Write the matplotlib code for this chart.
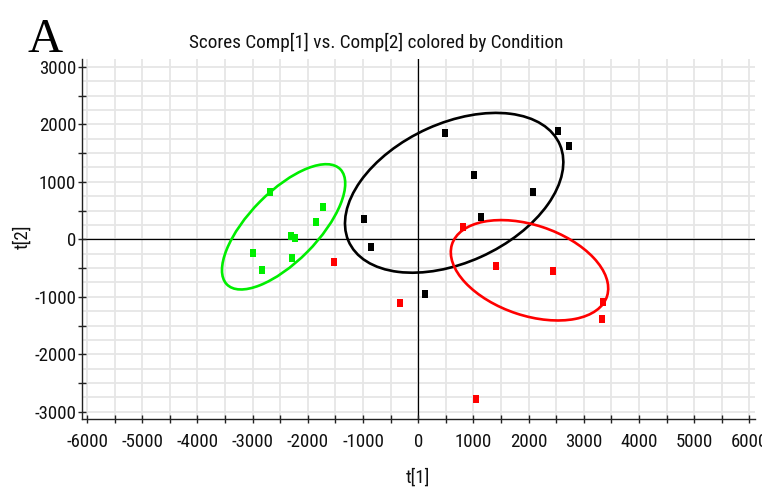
import matplotlib
matplotlib.use("Agg")
import matplotlib.pyplot as plt
from matplotlib import font_manager
from matplotlib.patches import Ellipse
from matplotlib.ticker import MultipleLocator
import numpy as np

# ---- data ----
green_x = [-2690, -1726, -1853, -2312, -2234, -3000, -2288, -2832]
green_y = [826, 560, 304, 61, 26, -240, -322, -530]

black_x = [484, 2525, 2724, 1003, 2072, 1136, -989, -862, 121]
black_y = [1852, 1887, 1626, 1117, 826, 381, 351, -130, -948]

red_x = [810, 1402, 2435, 3340, 3328, -332, -1533, 1040]
red_y = [217, -461, -548, -1087, -1383, -1104, -391, -2774]

# confidence ellipses: (center_x, center_y, width, height, angle_deg)
green_ell = (-2440, 217, 2870, 1225, 44)
black_ell = (650, 809, 4180, 2430, 23.4)
red_ell = (2015, -539, 2950, 1575, -17.6)

x_ticks = list(range(-6000, 6001, 1000))
y_ticks = list(range(-3000, 3001, 1000))

title = "Scores Comp[1] vs. Comp[2] colored by Condition"
panel_label = "A"
xlabel = "t[1]"
ylabel = "t[2]"

GREEN = "#00ee00"
RED = "#ff0000"
BLACK = "#000000"

# ---- pick a narrow font if one is installed ----
fonts = font_manager.fontManager.ttflist
avail = {f.name for f in fonts}
narrow_family = None
narrow_stretch = "normal"
for cand in ["Liberation Sans Narrow", "Arial Narrow", "Roboto Condensed",
             "Noto Sans Condensed", "Open Sans Condensed"]:
    if cand in avail:
        narrow_family = cand
        break
if narrow_family is None:
    cond = [f for f in fonts if f.name in ("DejaVu Sans", "Noto Sans", "Open Sans")
            and str(f.stretch) in ("condensed", "semi-condensed", "extra-condensed")]
    if cond:
        narrow_family = cond[0].name
        narrow_stretch = str(cond[0].stretch)
if narrow_family is None:
    narrow_family = "Roboto" if "Roboto" in avail else "Liberation Sans"
narrow = [narrow_family, "DejaVu Sans"]

fig = plt.figure(figsize=(7.62, 4.93), dpi=100)
ax = fig.add_axes([0.1072, 0.150, 0.8836, 0.730])

ax.set_xlim(-6098, 6100)
ax.set_ylim(-3127, 3134)

for gx in np.arange(-6000, 6001, 500):
    ax.axvline(gx, color="#e6e6e6", lw=1.3, zorder=0)
for gy in np.arange(-3000, 3001, 250):
    ax.axhline(gy, color="#e6e6e6", lw=1.3, zorder=0)

ax.axhline(0, color="black", lw=0.9, zorder=1)
ax.axvline(0, color="black", lw=0.9, zorder=1)

for (cx, cy, w, h, ang), col in [(green_ell, GREEN), (black_ell, BLACK), (red_ell, RED)]:
    ax.add_patch(Ellipse((cx, cy), w, h, angle=ang, fill=False, edgecolor=col, lw=1.9, zorder=3))

rect = [(-3, -4), (3, -4), (3, 4), (-3, 4), (-3, -4)]
ax.scatter(green_x, green_y, marker=rect, s=38, color=GREEN, zorder=4, linewidths=0)
ax.scatter(black_x, black_y, marker=rect, s=38, color=BLACK, zorder=4, linewidths=0)
ax.scatter(red_x, red_y, marker=rect, s=38, color=RED, zorder=4, linewidths=0)

for s in ["top", "right"]:
    ax.spines[s].set_visible(False)
for s in ["left", "bottom"]:
    ax.spines[s].set_linewidth(1.0)
    ax.spines[s].set_color("#222222")

ax.set_xticks(x_ticks)
ax.set_yticks(y_ticks)
ax.xaxis.set_minor_locator(MultipleLocator(500))
ax.yaxis.set_minor_locator(MultipleLocator(500))
ax.set_xticklabels([str(v) for v in x_ticks])
ax.set_yticklabels([str(v) for v in y_ticks])
ax.tick_params(which="both", direction="inout", length=6, width=1.0, color="#222222")
ax.tick_params(axis="x", pad=7)
ax.tick_params(axis="y", pad=1)

fig.canvas.draw()
renderer = fig.canvas.get_renderer()


def fit_size(txt, target_w, base=14.0):
    t = fig.text(0, 0, txt, fontsize=base, family=narrow, fontstretch=narrow_stretch)
    w = t.get_window_extent(renderer).width
    t.remove()
    return base * target_w / w

tick_fs = min(fit_size("-6000", 42.0), 14.0)
for lab in ax.get_xticklabels() + ax.get_yticklabels():
    lab.set_fontfamily(narrow)
    lab.set_fontstretch(narrow_stretch)
    lab.set_fontsize(tick_fs)
    lab.set_color("#111111")

title_fs = min(fit_size(title, 377.0), 16.0)
fig.text(376.5 / 762, 1 - 48.5 / 493, title, ha="center", va="baseline",
         fontsize=title_fs, family=narrow, fontstretch=narrow_stretch, color="#111111")
fig.text(27 / 762, 1 - 52 / 493, panel_label, ha="left", va="baseline",
         fontsize=35, family=["Liberation Serif", "DejaVu Serif"])
fig.text(418 / 762, 1 - 478 / 493, xlabel, ha="center", va="center",
         fontsize=tick_fs, family=narrow, fontstretch=narrow_stretch, color="#111111")
fig.text(22 / 762, 1 - 237 / 493, ylabel, ha="center", va="center", rotation=90,
         fontsize=tick_fs, family=narrow, fontstretch=narrow_stretch, color="#111111")

fig.savefig("out.png", dpi=100)
